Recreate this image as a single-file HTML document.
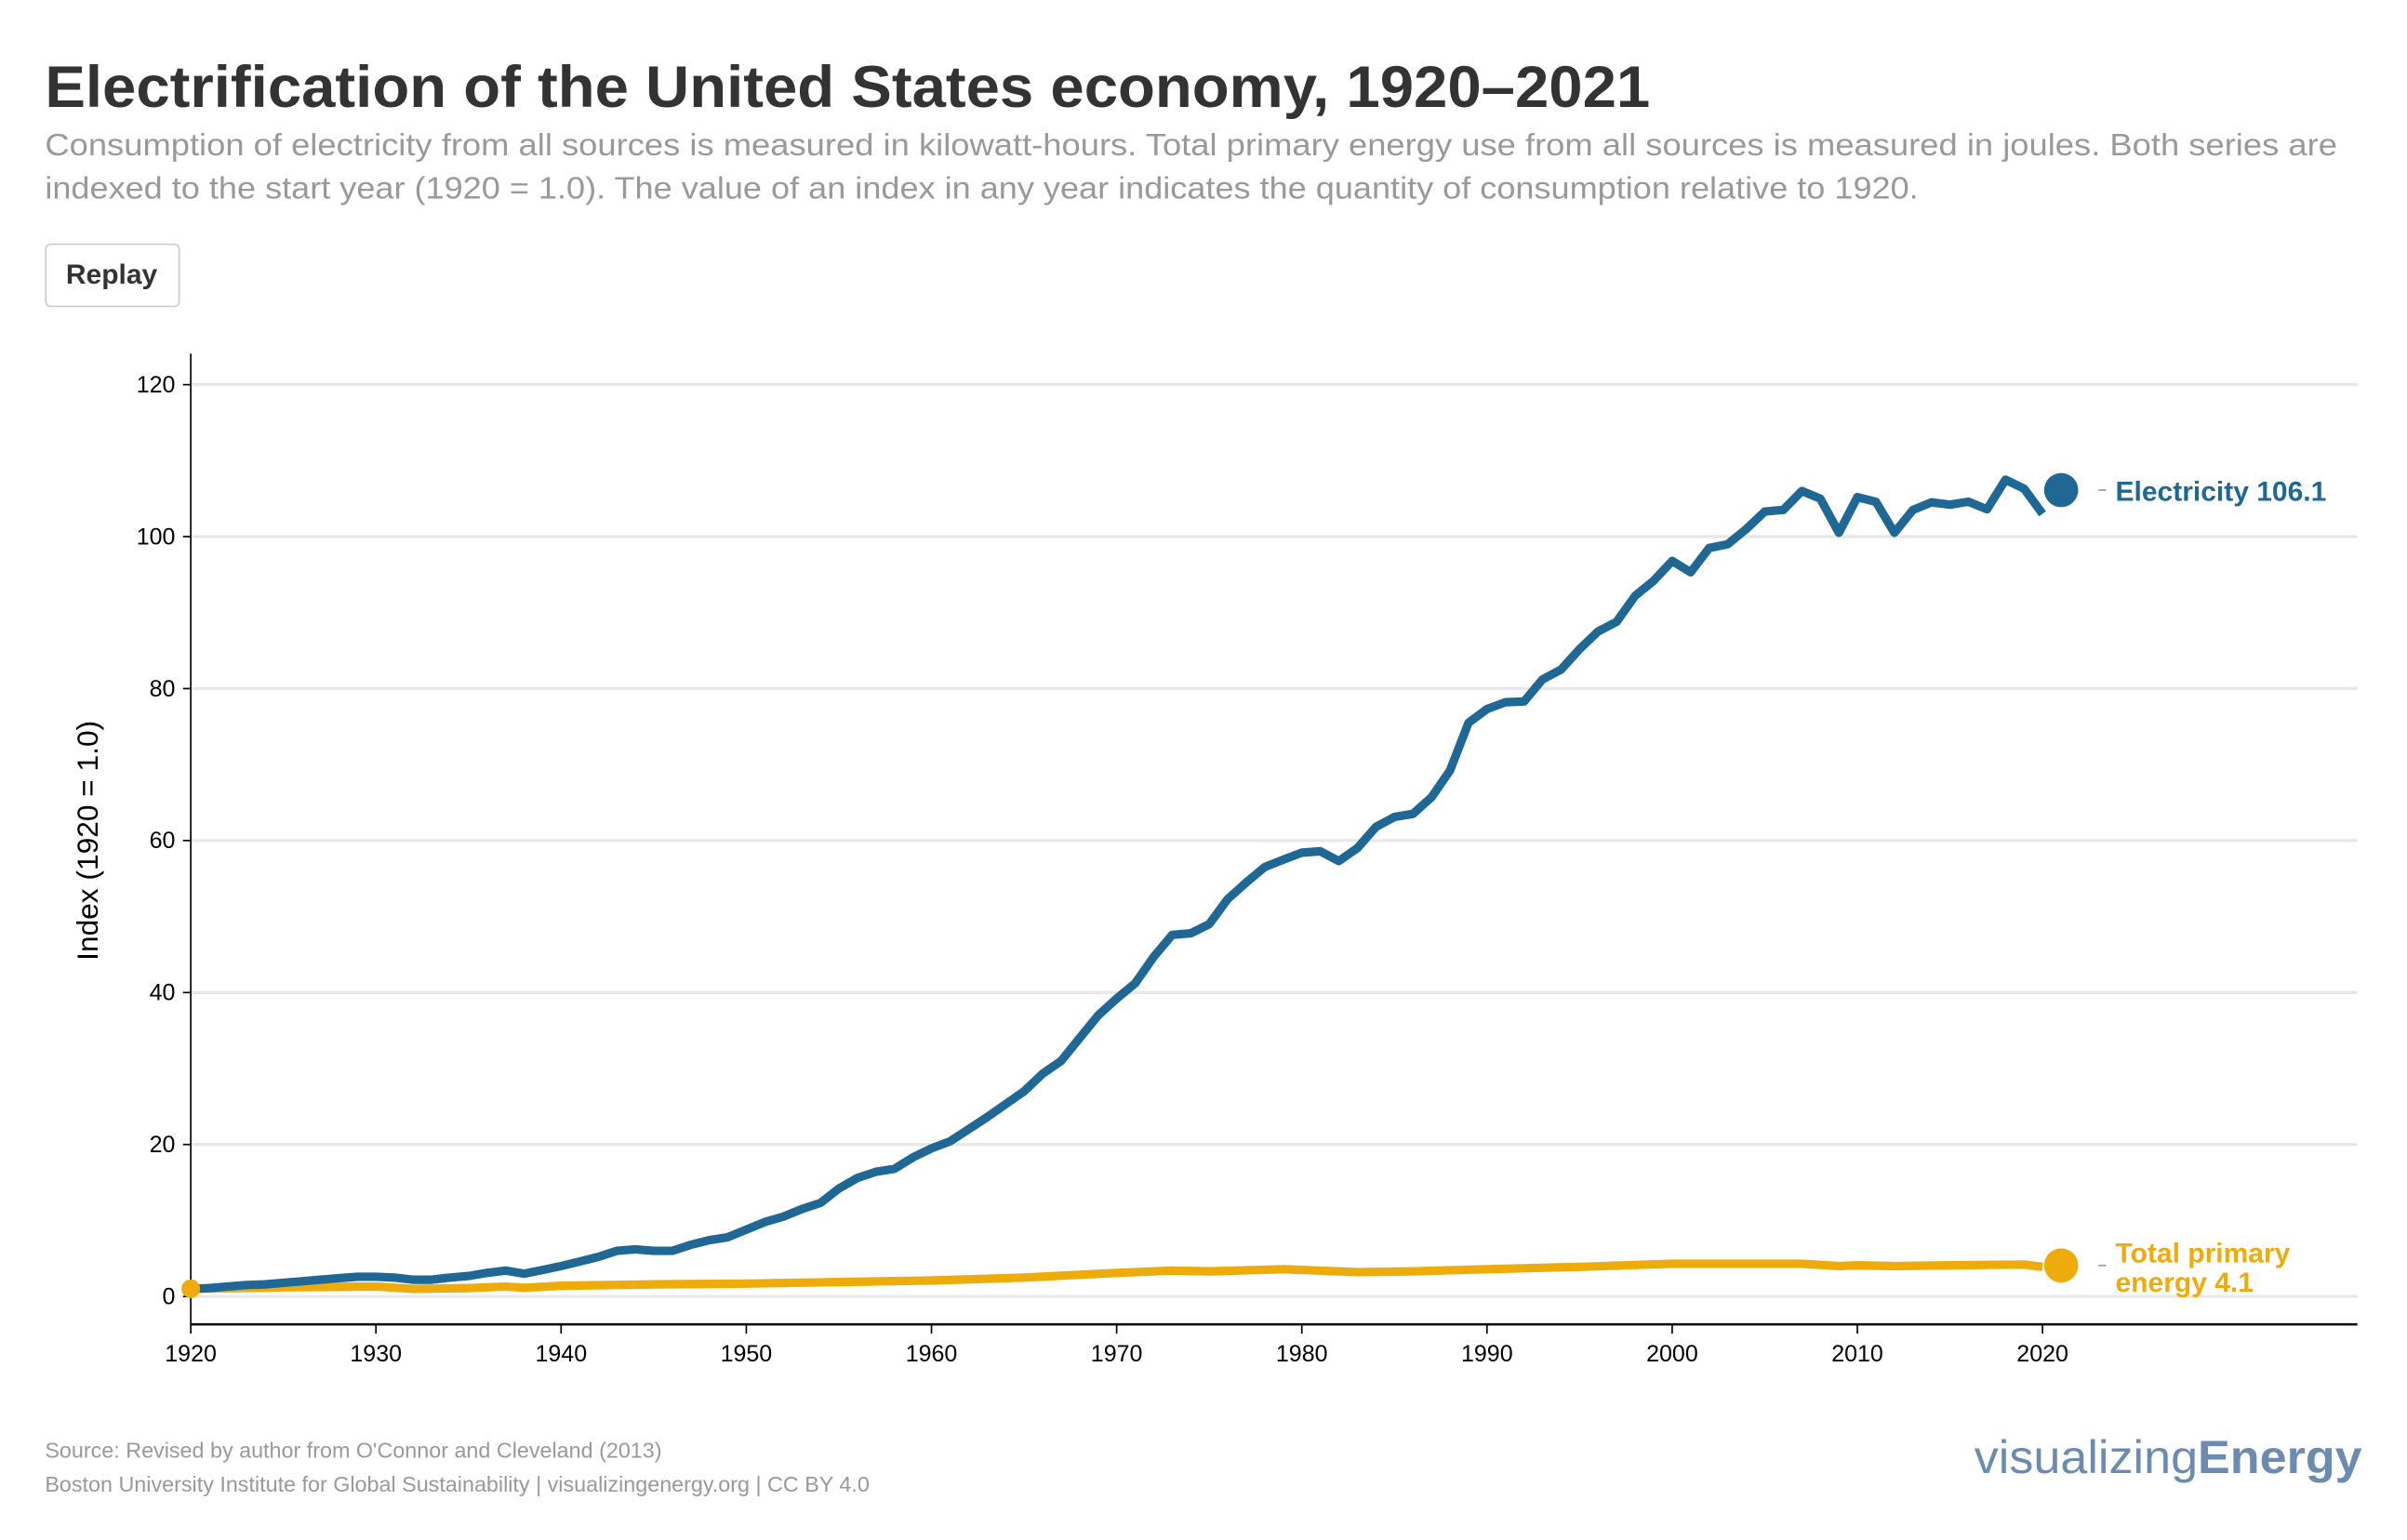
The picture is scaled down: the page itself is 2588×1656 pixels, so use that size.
<!DOCTYPE html>
<html><head><meta charset="utf-8"><style>
html,body{margin:0;padding:0;background:#fff;}
svg{display:block;}
text{font-family:"Liberation Sans",sans-serif;}
</style></head><body>
<svg width="2588" height="1656" viewBox="0 0 1552 993" xmlns="http://www.w3.org/2000/svg">
<rect width="1552" height="993" fill="#fff"/>
<text x="29" y="69" font-size="38" font-weight="bold" fill="#333" textLength="1035" lengthAdjust="spacingAndGlyphs">Electrification of the United States economy, 1920–2021</text>
<text x="29" y="100" font-size="20" fill="#999" textLength="1478" lengthAdjust="spacingAndGlyphs">Consumption of electricity from all sources is measured in kilowatt-hours. Total primary energy use from all sources is measured in joules. Both series are</text>
<text x="29" y="128" font-size="20" fill="#999" textLength="1208" lengthAdjust="spacingAndGlyphs">indexed to the start year (1920 = 1.0). The value of an index in any year indicates the quantity of consumption relative to 1920.</text>
<rect x="29.5" y="157.5" width="86" height="40" rx="3" fill="#fff" stroke="#ccc"/>
<text x="72" y="183" font-size="18" font-weight="bold" fill="#333" text-anchor="middle">Replay</text>
<g stroke="#e8e8e8" stroke-width="2">
<line x1="123" x2="1520" y1="248" y2="248"/><line x1="123" x2="1520" y1="346" y2="346"/>
<line x1="123" x2="1520" y1="444" y2="444"/><line x1="123" x2="1520" y1="542" y2="542"/>
<line x1="123" x2="1520" y1="640" y2="640"/><line x1="123" x2="1520" y1="738" y2="738"/>
<line x1="123" x2="1520" y1="836" y2="836"/>
</g>
<line x1="123" y1="228" x2="123" y2="854" stroke="#000" stroke-width="1"/>
<line x1="123" y1="854" x2="1520" y2="854" stroke="#000" stroke-width="1.5"/>
<g font-size="15" fill="#000" text-anchor="end">
<text x="113" y="253">120</text><text x="113" y="351">100</text><text x="113" y="449">80</text>
<text x="113" y="547">60</text><text x="113" y="645">40</text><text x="113" y="743">20</text><text x="113" y="841">0</text>
</g>
<g stroke="#000" stroke-width="1">
<line x1="118" x2="123" y1="248" y2="248"/><line x1="118" x2="123" y1="346" y2="346"/><line x1="118" x2="123" y1="444" y2="444"/><line x1="118" x2="123" y1="542" y2="542"/><line x1="118" x2="123" y1="640" y2="640"/><line x1="118" x2="123" y1="738" y2="738"/><line x1="118" x2="123" y1="836" y2="836"/>
<line x1="123" x2="123" y1="854" y2="860"/><line x1="242.4" x2="242.4" y1="854" y2="860"/><line x1="361.8" x2="361.8" y1="854" y2="860"/><line x1="481.2" x2="481.2" y1="854" y2="860"/><line x1="600.6" x2="600.6" y1="854" y2="860"/><line x1="720" x2="720" y1="854" y2="860"/><line x1="839.4" x2="839.4" y1="854" y2="860"/><line x1="958.8" x2="958.8" y1="854" y2="860"/><line x1="1078.2" x2="1078.2" y1="854" y2="860"/><line x1="1197.6" x2="1197.6" y1="854" y2="860"/><line x1="1317" x2="1317" y1="854" y2="860"/>
</g>
<g font-size="15" fill="#000" text-anchor="middle">
<text x="123" y="878">1920</text><text x="242.4" y="878">1930</text><text x="361.8" y="878">1940</text><text x="481.2" y="878">1950</text><text x="600.6" y="878">1960</text><text x="720" y="878">1970</text><text x="839.4" y="878">1980</text><text x="958.8" y="878">1990</text><text x="1078.2" y="878">2000</text><text x="1197.6" y="878">2010</text><text x="1317" y="878">2020</text>
</g>
<text transform="translate(63,542) rotate(-90)" font-size="19" fill="#000" text-anchor="middle">Index (1920 = 1.0)</text>
<polyline id="pe" fill="none" stroke="#edab0c" stroke-width="5.5" stroke-linejoin="round" points=""/>
<polyline id="el" fill="none" stroke="#1f6794" stroke-width="5.5" stroke-linejoin="round" points=""/>
<circle cx="123" cy="831" r="6" fill="#edab0c"/>
<circle cx="1329" cy="316" r="11" fill="#1f6794"/>
<circle cx="1329" cy="816" r="11" fill="#edab0c"/>
<line x1="1353" x2="1358" y1="316" y2="316" stroke="#999"/>
<line x1="1353" x2="1358" y1="816" y2="816" stroke="#999"/>
<text x="1364" y="323" font-size="18" font-weight="bold" fill="#1f6794">Electricity 106.1</text>
<text x="1364" y="814" font-size="18" font-weight="bold" fill="#edab0c">Total primary</text>
<text x="1364" y="833" font-size="18" font-weight="bold" fill="#edab0c">energy 4.1</text>
<text x="29" y="940" font-size="14" fill="#999">Source: Revised by author from O'Connor and Cleveland (2013)</text>
<text x="29" y="962" font-size="14" fill="#999">Boston University Institute for Global Sustainability | visualizingenergy.org | CC BY 4.0</text>
<text x="1273" y="950" font-size="30" fill="#6b8bb0" textLength="250" lengthAdjust="spacingAndGlyphs">visualizing<tspan font-weight="bold">Energy</tspan></text>
<script>
var el=[1,1.1,1.3,1.5,1.6,1.8,2.0,2.2,2.4,2.6,2.6,2.5,2.2,2.2,2.5,2.7,3.1,3.4,3.0,3.5,4.0,4.6,5.2,6.0,6.2,6.0,6.0,6.8,7.4,7.8,8.8,9.8,10.5,11.5,12.3,14.2,15.6,16.4,16.8,18.3,19.5,20.4,22,23.6,25.3,27,29.3,31,34,37,39.2,41.2,44.7,47.6,47.8,49,52.3,54.5,56.5,57.5,58.4,58.6,57.3,59,61.8,63.1,63.5,65.7,69.2,75.5,77.3,78.2,78.3,81.2,82.5,85.2,87.5,88.8,92.2,94.2,96.8,95.3,98.5,99,101,103.3,103.5,106,105,100.5,105.2,104.6,100.5,103.5,104.5,104.2,104.6,103.6,107.5,106.3,103];
var pk=[[1920,1],[1925,1.2],[1930,1.3],[1932,1.0],[1935,1.1],[1937,1.3],[1938,1.15],[1940,1.4],[1945,1.6],[1950,1.7],[1955,1.9],[1960,2.1],[1965,2.5],[1970,3.1],[1973,3.4],[1975,3.3],[1979,3.6],[1983,3.2],[1986,3.3],[1990,3.6],[1995,3.9],[2000,4.3],[2005,4.3],[2007,4.3],[2009,4.0],[2010,4.1],[2012,4.0],[2015,4.1],[2019,4.2],[2020,3.9]];
function X(y){return 123+(y-1920)*11.94;}function Y(v){return 836-v*4.9;}
document.getElementById('el').setAttribute('points',el.map(function(v,i){return X(1920+i).toFixed(1)+','+Y(v).toFixed(1);}).join(' '));
document.getElementById('pe').setAttribute('points',pk.map(function(p){return X(p[0]).toFixed(1)+','+Y(p[1]).toFixed(1);}).join(' '));
</script>
</svg>
</body></html>
